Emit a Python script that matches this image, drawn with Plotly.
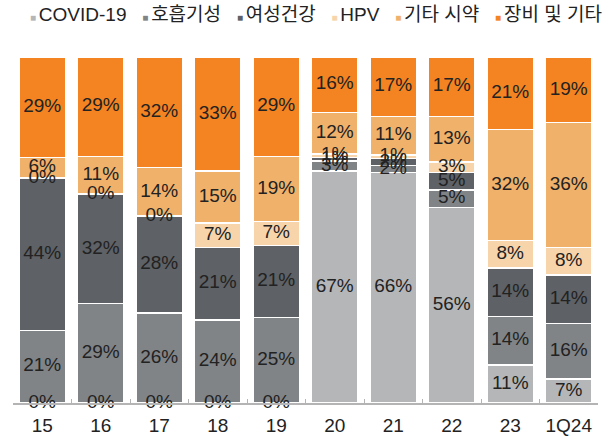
import plotly.graph_objects as go

categories = ["15", "16", "17", "18", "19", "20", "21", "22", "23", "1Q24"]

series_names = ["COVID-19", "호흡기성", "여성건강", "HPV", "기타 시약", "장비 및 기타"]
covid = [0, 0, 0, 0, 0, 67, 66, 56, 11, 7]
respiratory = [21, 29, 26, 24, 25, 3, 2, 5, 14, 16]
womens_health = [44, 32, 28, 21, 21, 1, 2, 5, 14, 14]
hpv = [0, 0, 0, 7, 7, 1, 1, 3, 8, 8]
other_reagents = [6, 11, 14, 15, 19, 12, 11, 13, 32, 36]
equipment = [29, 29, 32, 33, 29, 16, 17, 17, 21, 19]

colors = ["#b5b6b8", "#818487", "#5e6165", "#f8d4ab", "#f0b16b", "#f48421"]

series = [covid, respiratory, womens_health, hpv, other_reagents, equipment]
FONT = "Liberation Sans, Arial, Noto Sans CJK KR, sans-serif"

fig = go.Figure()
totals = [sum(s[i] for s in series) for i in range(len(categories))]

# stacked bars (normalised to 100)
for name, vals, col in zip(series_names, series, colors):
    fig.add_trace(go.Bar(
        x=categories, y=[v / t * 100 for v, t in zip(vals, totals)], name=name,
        marker=dict(color=col, line=dict(color="white", width=1.5)),
        showlegend=False, hoverinfo="skip",
    ))

# labels in the middle of each segment
base = [0] * len(categories)
for vals in series:
    mids = []
    for i, v in enumerate(vals):
        h = v / totals[i] * 100
        mids.append(base[i] + h / 2)
        base[i] += h
    fig.add_trace(go.Scatter(
        x=categories, y=mids, mode="text", text=[f"{v}%" for v in vals],
        textfont=dict(size=19, color="#222222", family=FONT),
        showlegend=False, hoverinfo="skip", cliponaxis=False,
    ))

# compact legend line at the top (small squares like the original)
legend_txt = "&nbsp;&nbsp;&nbsp;".join(
    f"<span style='color:{c};font-size:10px'>■&nbsp;</span>{n}" for n, c in zip(series_names, colors)
)
fig.add_annotation(text=legend_txt, xref="paper", yref="paper", x=0.518, y=1.124,
                   xanchor="center", yanchor="middle", showarrow=False,
                   font=dict(size=19, color="#222222", family=FONT))

fig.update_layout(
    barmode="stack", bargap=0.2,
    width=607, height=439,
    margin=dict(l=13, r=9, t=57, b=36),
    paper_bgcolor="white", plot_bgcolor="white",
    font=dict(family=FONT, size=19, color="#222222"),
    showlegend=False,
    xaxis=dict(type="category", showline=True, linecolor="#b4b4b4", linewidth=1.5,
               ticks="inside", tickson="boundaries", ticklen=4, tickcolor="#b4b4b4",
               ticklabelstandoff=4, automargin=False,
               tickfont=dict(size=19, color="#222222"), showgrid=False),
    yaxis=dict(range=[0, 100], visible=False, automargin=False),
)

# page body has a default 8px margin; drop it so the figure sits at the window corner
fig.write_html("out.html", config={"displayModeBar": False},
               post_script="document.body.style.margin='0';")
